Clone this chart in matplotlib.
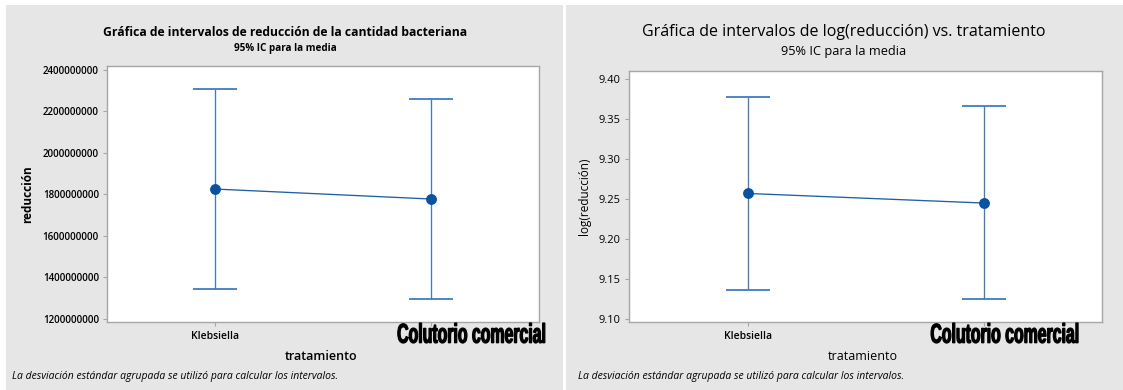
import matplotlib
matplotlib.use("Agg")
import matplotlib.pyplot as plt
import matplotlib.transforms as mtransforms
from matplotlib.patches import Rectangle, PathPatch
from matplotlib.textpath import TextPath
from matplotlib.font_manager import FontProperties

# Intervalos de confianza del 95% para la media, por tratamiento
categorias = ["Klebsiella", "Colutorio comercial"]
reduccion_media = [1825e6, 1777e6]
reduccion_inf = [1343e6, 1295e6]
reduccion_sup = [2307e6, 2259e6]

log_media = [9.257, 9.245]
log_inf = [9.136, 9.125]
log_sup = [9.378, 9.366]

red_ticks = [1200000000, 1400000000, 1600000000, 1800000000,
             2000000000, 2200000000, 2400000000]
log_ticks = [9.10, 9.15, 9.20, 9.25, 9.30, 9.35, 9.40]

plt.rcParams["font.family"] = ["Open Sans", "DejaVu Sans"]

W, H = 1123, 390
fig = plt.figure(figsize=(W / 100, H / 100), dpi=100)
fig.patch.set_facecolor("white")

# fondos grises de cada panel
for x0, x1 in [(6, 563), (566, 1123)]:
    fig.patches.append(Rectangle((x0 / W, 0), (x1 - x0) / W, (H - 5) / H,
                                 transform=fig.transFigure,
                                 facecolor="#e6e6e6", edgecolor="none", zorder=-5))

ax1 = fig.add_axes([107.3 / W, (H - 322.3) / H, 432 / W, 256.3 / H])
ax2 = fig.add_axes([629.3 / W, (H - 322.3) / H, 473 / W, 251.3 / H])

linea = "#1f5fa8"
barra = "#3f7cc2"
punto = "#0752a3"


def intervalos(ax, media, inf, sup):
    xs = list(range(1, len(media) + 1))
    abajo = [m - lo for m, lo in zip(media, inf)]
    arriba = [hi - m for m, hi in zip(media, sup)]
    ax.errorbar(xs, media, yerr=[abajo, arriba], fmt="none", ecolor=barra,
                elinewidth=0.95, capsize=15.5, capthick=1.3, zorder=2)
    ax.plot(xs, media, color=linea, lw=0.95, zorder=3)
    ax.plot(xs, media, "o", color=punto, ms=6.8, zorder=4)
    ax.set_xlim(0.5, len(media) + 0.5)
    ax.set_xticks(xs)
    ax.set_xticklabels([categorias[0], ""])
    for s in ax.spines.values():
        s.set_color("#a6a6a6")
        s.set_linewidth(1.0)
    ax.tick_params(color="#a6a6a6", length=3, width=0.8, pad=3)
    ax.set_facecolor("white")
    return xs


def etiqueta_grande(ax, x, dx, ancho=147, alto=20, arriba=323):
    # rótulo del segundo tratamiento: letra negra, gruesa y estrecha
    tp = TextPath((0, 0), categorias[1], size=20,
                  prop=FontProperties(family="Liberation Sans", weight="bold"))
    ext = tp.get_extents()
    sx = ancho / ext.width
    sy = alto / ext.height
    base = mtransforms.blended_transform_factory(ax.transData, fig.transFigure)
    tr = (mtransforms.Affine2D()
          .translate(-(ext.x0 + ext.width / 2), -ext.y1)
          .scale(sx, sy)
          .translate(dx, 0)
          + mtransforms.ScaledTranslation(x, 1 - arriba / H, base))
    fig.add_artist(PathPatch(tp, transform=tr, facecolor="black",
                             edgecolor="black", lw=0.9, zorder=6))


# panel izquierdo
xs1 = intervalos(ax1, reduccion_media, reduccion_inf, reduccion_sup)
ax1.set_ylim(1184e6, 2417e6)
ax1.set_yticks(red_ticks)
ax1.set_yticklabels([str(t) for t in red_ticks], fontsize=7.1, fontweight="semibold")
for lab in ax1.get_xticklabels():
    lab.set_fontsize(7.5)
    lab.set_fontweight("semibold")
etiqueta_grande(ax1, xs1[1], 40)
ax1.set_ylabel("reducción", fontsize=8.5, fontweight="bold", labelpad=6)
ax1.set_xlabel("tratamiento", fontsize=9, fontweight="semibold")
ax1.xaxis.set_label_coords(321 / W, (H - 350) / H, transform=fig.transFigure)

fig.text(285 / W, 1 - 32 / H, "Gráfica de intervalos de reducción de la cantidad bacteriana",
         ha="center", va="center", fontsize=8.7, fontweight="bold")
fig.text(285 / W, 1 - 49 / H, "95% IC para la media",
         ha="center", va="center", fontsize=7.1, fontweight="bold")
fig.text(12 / W, 1 - 377 / H,
         "La desviación estándar agrupada se utilizó para calcular los intervalos.",
         ha="left", va="center", fontsize=7.5, style="italic")

# panel derecho
xs2 = intervalos(ax2, log_media, log_inf, log_sup)
ax2.set_ylim(9.096, 9.41)
ax2.set_yticks(log_ticks)
ax2.set_yticklabels([f"{t:.2f}" for t in log_ticks], fontsize=8)
for lab in ax2.get_xticklabels():
    lab.set_fontsize(7.5)
    lab.set_fontweight("semibold")
etiqueta_grande(ax2, xs2[1], 20.5)
ax2.set_ylabel("log(reducción)", fontsize=8.5, labelpad=6)
ax2.set_xlabel("tratamiento", fontsize=9)
ax2.xaxis.set_label_coords(863 / W, (H - 350) / H, transform=fig.transFigure)

fig.text(844 / W, 1 - 32 / H, "Gráfica de intervalos de log(reducción) vs. tratamiento",
         ha="center", va="center", fontsize=11.5)
fig.text(844 / W, 1 - 51 / H, "95% IC para la media",
         ha="center", va="center", fontsize=9.2)
fig.text(578 / W, 1 - 377 / H,
         "La desviación estándar agrupada se utilizó para calcular los intervalos.",
         ha="left", va="center", fontsize=7.5, style="italic")

fig.savefig("out.png", dpi=100)
